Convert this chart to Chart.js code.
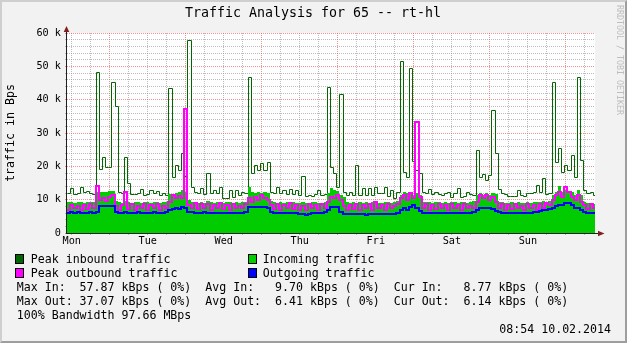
<!DOCTYPE html>
<html><head><meta charset="utf-8">
<script src="https://cdn.jsdelivr.net/npm/chart.js@4.4.1/dist/chart.umd.min.js"></script>
<style>
html,body{margin:0;padding:0;background:#F2F2F2;}
#wrap{position:relative;width:627px;height:343px;overflow:hidden;background:#F2F2F2;}
#frame{position:absolute;left:0;top:0;width:623px;height:339px;border-style:solid;border-width:2px;border-color:#CFCFCF #9E9E9E #9E9E9E #CFCFCF;pointer-events:none;}
canvas{position:absolute;left:0;top:0;}
.txt{position:absolute;font-family:'DejaVu Sans Mono',monospace;font-size:11.6px;line-height:14px;color:#000;white-space:pre;}
.box{position:absolute;width:7px;height:8px;border:1px solid #000;}
#title{position:absolute;left:0;top:5.4px;width:626px;text-align:center;font-family:'DejaVu Sans Mono',monospace;font-size:13.3px;line-height:16px;color:#000;white-space:pre;}
#wm{position:absolute;left:614.5px;top:5px;writing-mode:vertical-rl;font-family:'DejaVu Sans Mono',monospace;font-size:8.3px;line-height:10px;color:#BDBDBD;white-space:pre;}
</style></head>
<body>
<div id="wrap">
  <canvas id="c" width="627" height="343"></canvas>
  <div id="frame"></div>
  <div id="title">Traffic Analysis for 65 -- rt-hl</div>
  <div id="wm">RRDTOOL / TOBI OETIKER</div>
  <div class="box" style="left:15px;top:254px;background:#006600"></div>
  <div class="txt" style="left:30.8px;top:251.7px">Peak inbound traffic</div>
  <div class="box" style="left:248px;top:254px;background:#00CC00"></div>
  <div class="txt" style="left:262.8px;top:251.7px">Incoming traffic</div>
  <div class="box" style="left:15px;top:268px;background:#FF00FF"></div>
  <div class="txt" style="left:30.8px;top:265.7px">Peak outbound traffic</div>
  <div class="box" style="left:248px;top:268px;background:#0000FF"></div>
  <div class="txt" style="left:262.8px;top:265.7px">Outgoing traffic</div>
  <div class="txt" style="left:16.8px;top:279.7px">Max In:  57.87 kBps ( 0%)  Avg In:   9.70 kBps ( 0%)  Cur In:   8.77 kBps ( 0%)</div>
  <div class="txt" style="left:16.8px;top:293.7px">Max Out: 37.07 kBps ( 0%)  Avg Out:  6.41 kBps ( 0%)  Cur Out:  6.14 kBps ( 0%)</div>
  <div class="txt" style="left:16.8px;top:307.7px">100% Bandwidth 97.66 MBps</div>
  <div class="txt" style="right:16px;top:321.7px">08:54 10.02.2014</div>
</div>
<script>
// ---- data (kBps, one value per hour, starting Mon ~10:30) ----
const STEP_HOURS = 1;
const X_MAX_HOURS = 166.7;
const FIRST_NOON = 1.5;      // hour offset of Monday noon
const FIRST_MIDNIGHT = 13.5; // hour offset of Tuesday 00:00
const dayLabels = ['Mon','Tue','Wed','Thu','Fri','Sat','Sun'];
const yTickLabels = ['0','10 k','20 k','30 k','40 k','50 k','60 k'];

const peakIn = [
 11.9,13.4,11.8,12.0,13.9,12.4,12.7,12.1,11.6,48.4,
 19.3,22.9,19.9,19.9,45.4,38.0,12.2,11.9,22.9,14.9,
 11.6,11.8,12.0,13.2,11.4,11.6,12.8,12.1,12.6,11.4,
 11.9,11.4,43.4,16.9,20.4,19.0,23.9,17.0,57.9,13.9,
 12.3,11.9,13.4,11.6,18.1,12.0,12.8,12.0,13.9,10.4,
 10.6,12.9,10.9,13.0,11.4,12.4,11.9,46.7,17.9,20.4,
 18.9,20.9,19.0,21.2,12.2,11.9,13.7,11.9,12.9,11.7,
 13.1,11.7,12.9,11.4,17.1,11.2,11.4,11.0,11.6,13.0,
 11.4,11.6,43.9,19.9,18.0,13.9,41.7,12.4,11.4,12.4,
 11.4,20.4,11.4,13.4,11.4,13.4,11.4,13.9,12.0,11.9,
 13.9,11.0,12.9,10.4,12.4,51.7,18.4,16.9,49.4,21.5,
 19.0,17.9,12.4,11.9,13.1,11.8,12.4,11.6,11.4,11.9,
 12.2,10.9,11.9,13.4,10.9,11.2,12.4,11.6,11.4,24.9,
 16.9,17.6,16.0,17.4,36.9,24.0,13.3,12.0,11.6,11.2,
 11.0,11.2,12.9,11.4,11.0,11.9,12.0,12.4,14.4,12.2,
 16.5,11.6,11.9,45.4,21.2,25.4,18.4,20.4,19.0,23.4,
 16.9,46.7,22.0,12.9,11.9,12.4,11.4
];
const incoming = [
 9.2,9.3,9.1,9.4,9.2,9.0,9.3,9.2,9.4,12.4,
 12.4,12.2,12.4,12.7,12.7,9.6,9.2,9.1,9.6,9.3,
 9.1,9.2,9.4,9.0,9.2,9.3,9.1,9.4,9.2,9.0,
 9.2,9.4,11.8,11.5,12.0,12.4,12.9,12.2,10.0,9.4,
 9.2,9.0,9.3,9.1,9.6,9.2,9.0,9.4,9.1,8.9,
 9.2,9.3,9.0,9.4,9.1,9.2,9.3,13.9,12.4,12.0,
 12.2,12.0,12.4,11.9,9.6,9.2,9.1,9.3,9.0,9.2,
 9.1,9.4,9.0,8.9,9.2,9.1,9.0,9.2,9.3,9.1,
 9.0,9.4,12.0,13.4,12.9,12.5,11.4,10.9,9.2,9.1,
 9.3,9.0,9.2,9.1,9.4,9.0,9.2,9.3,9.1,9.0,
 9.2,9.4,9.1,9.3,9.6,11.4,12.4,11.9,12.4,11.4,
 11.9,11.4,9.4,9.2,9.3,9.1,9.4,9.2,9.0,9.3,
 9.1,9.2,9.4,9.0,9.2,9.3,9.1,9.4,9.6,11.4,
 11.9,11.4,11.9,11.4,12.0,11.6,9.4,9.2,9.0,9.1,
 9.3,9.0,9.2,9.1,8.9,9.2,9.0,9.3,9.4,9.2,
 9.6,9.3,9.5,11.4,12.4,14.1,12.4,12.9,11.9,12.4,
 11.4,12.9,11.4,9.2,9.1,9.0,8.8
];
const peakOut = [
 7.0,8.4,7.4,8.0,6.9,8.4,7.2,8.6,7.6,14.0,
 9.9,10.4,9.5,10.9,11.4,8.0,7.0,8.4,12.4,7.2,
 8.6,7.0,8.2,7.4,8.8,6.9,8.4,7.6,8.6,7.0,
 8.2,7.4,9.4,11.4,10.4,11.0,10.4,37.1,8.4,7.4,
 8.9,7.2,8.6,7.4,8.8,7.0,8.4,7.6,8.9,7.2,
 8.4,7.0,8.6,7.4,8.2,7.6,8.8,10.4,9.4,10.9,
 9.9,11.4,10.4,9.9,8.4,7.2,8.6,7.0,8.4,7.4,
 8.9,7.2,8.4,6.9,8.2,7.0,8.6,7.4,8.4,7.0,
 8.8,7.6,9.4,10.9,10.4,11.4,9.9,8.0,7.0,8.4,
 7.2,8.6,6.9,8.4,7.4,8.8,7.0,9.4,7.6,8.4,
 7.0,8.6,7.4,8.2,8.8,10.4,11.4,9.9,11.9,10.4,
 33.4,10.9,7.4,8.6,7.0,8.4,7.2,8.8,7.4,8.4,
 7.0,8.6,7.6,8.4,6.9,8.8,7.4,8.2,7.6,9.4,
 11.4,10.4,11.4,9.9,10.9,9.4,7.4,8.6,7.0,8.4,
 7.2,8.8,7.4,8.2,7.0,8.6,7.6,8.4,7.0,8.8,
 7.4,9.0,8.4,9.9,11.4,12.4,10.9,13.9,12.4,10.9,
 9.9,11.4,9.4,8.4,7.2,8.8,7.6
];
const outgoing = [
 6.1,6.2,6.1,6.3,6.1,6.0,6.1,6.2,6.1,6.2,
 8.1,8.1,8.1,8.1,8.1,6.3,6.1,6.0,6.2,6.1,
 6.0,6.1,6.2,6.0,6.1,6.0,6.1,6.2,6.0,5.9,
 6.0,6.2,6.9,7.2,7.4,7.2,7.7,7.4,6.4,6.2,
 6.0,6.1,6.0,6.2,6.1,5.9,6.0,6.1,6.0,5.9,
 6.0,6.1,5.9,6.0,6.1,6.0,6.2,7.9,7.9,7.7,
 7.9,7.9,7.7,7.4,6.2,6.1,6.0,6.1,6.0,5.9,
 6.0,6.1,5.9,5.6,5.6,5.5,5.6,5.9,6.0,6.1,
 6.0,6.2,6.9,7.9,7.9,7.7,6.4,5.8,5.7,5.6,
 5.7,5.8,5.6,5.7,5.5,5.7,5.8,5.6,5.7,5.8,
 5.6,5.7,5.8,5.7,6.0,6.9,7.4,6.9,7.7,8.4,
 7.4,6.6,6.1,6.0,6.1,5.9,6.0,6.1,6.0,5.9,
 6.0,6.1,5.9,6.0,5.9,6.1,6.0,6.1,6.3,7.0,
 7.4,7.4,7.6,7.4,7.2,6.7,6.2,6.0,6.1,6.0,
 5.9,6.0,6.1,6.0,5.9,6.0,6.1,6.2,6.3,6.6,
 6.9,7.0,7.2,7.4,8.1,8.4,8.4,8.9,8.9,8.4,
 7.4,7.6,7.0,6.2,6.1,6.1,6.1
];

// ---- helpers ----
const toPts = vals => {
  const p = vals.map((v, i) => ({x: i * STEP_HOURS, y: v}));
  p.push({x: vals.length * STEP_HOURS, y: vals[vals.length - 1]});
  return p;
};
const xTickValues = [];
for (let t = FIRST_NOON; t < X_MAX_HOURS; t += 6) xTickValues.push(t);
const yTickValues = [];
for (let v = 0; v <= 60; v += 2) yTickValues.push(v);

const MINOR = 'rgba(143,143,143,0.6)';
const MAJOR = 'rgba(222,79,79,0.6)';
const xMajor = v => ((v - FIRST_MIDNIGHT) % 24) === 0;
const yMajor = v => (v % 10) === 0;

const snapPlugin = {
  id: 'snap',
  afterDatasetsUpdate(chart) {
    chart.data.datasets.forEach((ds, i) => {
      const meta = chart.getDatasetMeta(i);
      const off = ds.snapOffset || 0;
      meta.data.forEach(pt => { pt.x = Math.round(pt.x) + off; pt.y = Math.round(pt.y) + off; });
    });
  }
};
const canvasBg = {
  id: 'canvasBg',
  beforeDraw(chart) {
    const {ctx, chartArea: a} = chart;
    ctx.save();
    ctx.fillStyle = '#FFFFFF';
    ctx.fillRect(a.left, a.top, a.right - a.left, a.bottom - a.top);
    ctx.restore();
  }
};
const axes = {
  id: 'axes',
  afterDatasetsDraw(chart) {
    const {ctx, chartArea: a} = chart;
    ctx.save();
    ctx.strokeStyle = '#1F1F1F';
    ctx.lineWidth = 1;
    ctx.beginPath();
    ctx.moveTo(a.left - 0.5, a.bottom + 0.5);
    ctx.lineTo(a.left - 0.5, a.top - 4);
    ctx.moveTo(a.left - 1, a.bottom + 0.5);
    ctx.lineTo(a.right + 5, a.bottom + 0.5);
    ctx.stroke();
    ctx.fillStyle = '#801F1F';
    ctx.beginPath();
    ctx.moveTo(a.left - 0.5, a.top - 7);
    ctx.lineTo(a.left - 3.3, a.top - 1);
    ctx.lineTo(a.left + 2.3, a.top - 1);
    ctx.closePath();
    ctx.fill();
    ctx.beginPath();
    ctx.moveTo(a.right + 9.5, a.bottom + 0.5);
    ctx.lineTo(a.right + 3, a.bottom - 2.3);
    ctx.lineTo(a.right + 3, a.bottom + 3.3);
    ctx.closePath();
    ctx.fill();
    ctx.restore();
  }
};

Chart.defaults.font.family = "'DejaVu Sans Mono', monospace";
Chart.defaults.color = '#000';

new Chart(document.getElementById('c'), {
  type: 'line',
  data: {
    datasets: [
      {label: 'Outgoing traffic', data: toPts(outgoing), borderColor: '#0000FF', borderWidth: 2, stepped: true, pointRadius: 0, fill: false},
      {label: 'Peak outbound traffic', data: toPts(peakOut), borderColor: '#FF00FF', borderWidth: 2, stepped: true, pointRadius: 0, fill: false},
      {label: 'Incoming traffic', data: toPts(incoming), borderColor: '#00CC00', backgroundColor: '#00CC00', borderWidth: 0, stepped: true, pointRadius: 0, fill: 'origin'},
      {label: 'Peak inbound traffic', data: toPts(peakIn), borderColor: '#006600', borderWidth: 1, stepped: true, pointRadius: 0, fill: false, snapOffset: 0.5}
    ]
  },
  options: {
    responsive: false,
    devicePixelRatio: 1,
    animation: false,
    events: [],
    layout: {padding: {top: 33, right: 32, bottom: 0, left: 0}},
    plugins: {legend: {display: false}, tooltip: {enabled: false}, title: {display: false}},
    scales: {
      x: {
        type: 'linear', min: 0, max: X_MAX_HOURS,
        afterFit: s => { s.height = 110; },
        afterBuildTicks: s => { s.ticks = xTickValues.map(v => ({value: v})); },
        grid: {
          color: c => (c.tick && xMajor(c.tick.value)) ? MAJOR : MINOR,
          tickColor: c => (c.tick && xMajor(c.tick.value)) ? MAJOR : MINOR,
          lineWidth: 1, drawTicks: true, tickLength: 2, tickBorderDash: []
        },
        border: {display: false, dash: [1, 1]},
        ticks: {
          autoSkip: false, maxRotation: 0, padding: 0,
          font: {size: 10.2}, color: '#000',
          callback: v => (((v - FIRST_NOON) % 24) === 0 ? dayLabels[(v - FIRST_NOON) / 24] : '')
        }
      },
      y: {
        type: 'linear', min: 0, max: 60,
        afterFit: s => { s.width = 67; },
        afterBuildTicks: s => { s.ticks = yTickValues.map(v => ({value: v})); },
        grid: {
          color: c => (c.tick && yMajor(c.tick.value)) ? MAJOR : MINOR,
          tickColor: c => (c.tick && yMajor(c.tick.value)) ? MAJOR : MINOR,
          lineWidth: 1, drawTicks: true, tickLength: 2, tickBorderDash: []
        },
        border: {display: false, dash: [1, 1]},
        ticks: {
          autoSkip: false, padding: 4, font: {size: 10.2}, color: '#000',
          callback: v => (yMajor(v) ? yTickLabels[v / 10] : '')
        },
        title: {display: true, text: 'traffic in Bps', color: '#000', font: {size: 11.6}, padding: {top: 4, bottom: 0}}
      }
    }
  },
  plugins: [snapPlugin, canvasBg, axes]
});
</script>
</body></html>
